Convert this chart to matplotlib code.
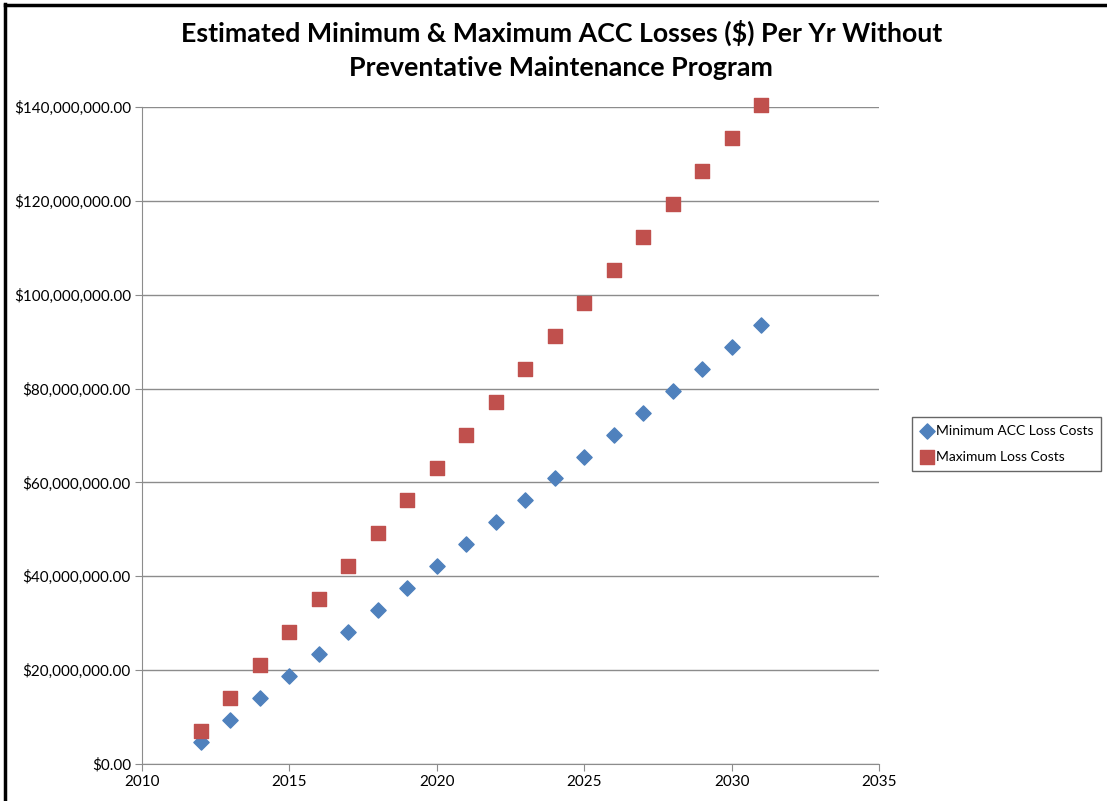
import matplotlib
matplotlib.use("Agg")
import matplotlib.pyplot as plt
from matplotlib.lines import Line2D
from matplotlib.ticker import FuncFormatter, MultipleLocator

years = [2012, 2013, 2014, 2015, 2016, 2017, 2018, 2019, 2020, 2021,
         2022, 2023, 2024, 2025, 2026, 2027, 2028, 2029, 2030, 2031]
min_costs = [4.68e6, 9.36e6, 14.04e6, 18.72e6, 23.4e6, 28.08e6, 32.76e6, 37.44e6,
             42.12e6, 46.8e6, 51.48e6, 56.16e6, 60.84e6, 65.52e6, 70.2e6, 74.88e6,
             79.56e6, 84.24e6, 88.92e6, 93.6e6]
max_costs = [7.02e6, 14.04e6, 21.06e6, 28.08e6, 35.1e6, 42.12e6, 49.14e6, 56.16e6,
             63.18e6, 70.2e6, 77.22e6, 84.24e6, 91.26e6, 98.28e6, 105.3e6, 112.32e6,
             119.34e6, 126.36e6, 133.38e6, 140.4e6]

W, H = 1107, 801
fig = plt.figure(figsize=(W / 100, H / 100), dpi=100)
ax = fig.add_axes([142 / W, 1 - 764 / H, (879 - 142) / W, (764 - 107) / H])

ax.scatter(years, min_costs, marker="D", s=60, color="#4F81BD", zorder=3,
           label="Minimum ACC Loss Costs", clip_on=False)
ax.scatter(years, max_costs, marker="s", s=90, color="#C0504D", zorder=3,
           label="Maximum Loss Costs", clip_on=False)

ax.set_xlim(2010, 2035)
ax.set_ylim(0, 140e6)
ax.xaxis.set_major_locator(MultipleLocator(5))
ax.yaxis.set_major_locator(MultipleLocator(20e6))
ax.yaxis.set_major_formatter(FuncFormatter(lambda v, p: "${:,.2f}".format(v)))
ax.grid(axis="y", color="#8c8c8c", lw=1)
ax.set_axisbelow(True)
for s in ["top", "right"]:
    ax.spines[s].set_visible(False)
for s in ["left", "bottom"]:
    ax.spines[s].set_color("#8c8c8c")
ax.tick_params(axis="both", length=5, color="#8c8c8c", labelsize=11, pad=3)
for lab in ax.get_xticklabels() + ax.get_yticklabels():
    lab.set_family("Lato")

fig.text(0.507, 1 - 50 / H,
         "Estimated Minimum & Maximum ACC Losses ($) Per Yr Without\nPreventative Maintenance Program",
         ha="center", va="center", fontsize=19.3, fontweight="bold",
         family="Lato", linespacing=1.5)

leg = fig.legend(loc="center left", bbox_to_anchor=(912 / W, 1 - 444 / H),
                 frameon=True, fancybox=False, edgecolor="#404040",
                 prop={"family": "Lato", "size": 10}, handletextpad=0.1,
                 handlelength=1.0, borderpad=0.6, labelspacing=1.0,
                 borderaxespad=0)
leg.get_frame().set_linewidth(1)

# frame edges on the left and top
fig.add_artist(Line2D([4.5 / W, 4.5 / W], [0, 1 - 4 / H], color="black", lw=2.5))
fig.add_artist(Line2D([4.5 / W, 1], [1 - 4.5 / H, 1 - 4.5 / H], color="black", lw=2.5))

fig.savefig("out.png", dpi=100)
